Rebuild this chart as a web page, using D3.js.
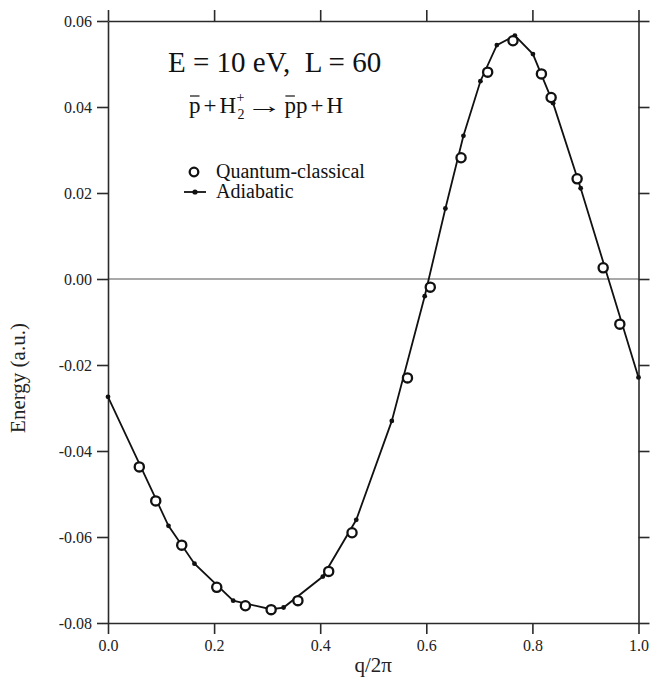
<!DOCTYPE html>
<html>
<head>
<meta charset="utf-8">
<script src="https://cdn.jsdelivr.net/npm/d3@7"></script>
<style>
  html, body { margin: 0; padding: 0; background: #fff; }
  svg { display: block; font-family: "Liberation Serif", "DejaVu Serif", serif; }
  text { white-space: pre; }
</style>
</head>
<body>
<svg id="chart" width="650" height="686"></svg>
<script>
// ---- data ----
const adiabaticQ = [0.000, 0.114, 0.163, 0.236, 0.307, 0.331, 0.405, 0.468, 0.535, 0.597, 0.636, 0.670, 0.702, 0.733, 0.767, 0.801, 0.839, 0.891, 1.000];
const adiabaticE = [-0.0274, -0.0574, -0.0662, -0.0748, -0.0768, -0.0764, -0.0692, -0.0560, -0.0330, -0.0040, 0.0164, 0.0333, 0.0460, 0.0544, 0.0566, 0.0523, 0.0409, 0.0211, -0.0229];
const quantumQ = [0.059, 0.090, 0.139, 0.205, 0.259, 0.3075, 0.358, 0.416, 0.460, 0.5645, 0.6075, 0.6655, 0.7157, 0.7634, 0.817, 0.8353, 0.8843, 0.9334, 0.9648];
const quantumE = [-0.0437, -0.0516, -0.0619, -0.0717, -0.0760, -0.0769, -0.0748, -0.0680, -0.0590, -0.0230, -0.0019, 0.0282, 0.0481, 0.0554, 0.0477, 0.0422, 0.0233, 0.0026, -0.0105];
const xTicks = [0, 0.2, 0.4, 0.6, 0.8, 1.0];
const xTickLabels = ["0.0", "0.2", "0.4", "0.6", "0.8", "1.0"];
const yTicks = [-0.08, -0.06, -0.04, -0.02, 0.00, 0.02, 0.04, 0.06];
const yTickLabels = ["-0.08", "-0.06", "-0.04", "-0.02", "0.00", "0.02", "0.04", "0.06"];
const titleText = "E = 10 eV,  L = 60";
const legendLabels = ["Quantum-classical", "Adiabatic"];
const xLabel = "q/2\u03C0";
const yLabel = "Energy (a.u.)";

// ---- layout ----
const L = 108, R = 638.5, T = 21, B = 623;
const svg = d3.select("#chart");
const x = d3.scaleLinear().domain([0, 1]).range([L, R]);
const y = d3.scaleLinear().domain([-0.08, 0.06]).range([B, T]);
const axisColor = "#2a2a2a";

function styleAxis(g) {
  g.selectAll("path.domain").attr("stroke", axisColor).attr("stroke-width", 1.6);
  g.selectAll(".tick line").attr("stroke", axisColor).attr("stroke-width", 1.6);
  g.selectAll(".tick text").attr("fill", "#222").attr("font-family", "Liberation Serif, serif").attr("font-size", 16);
}

// zero line
svg.append("line").attr("x1", L).attr("x2", R).attr("y1", y(0)).attr("y2", y(0))
  .attr("stroke", "#555").attr("stroke-width", 1.1);

const gx = svg.append("g").attr("transform", `translate(0,${B})`)
  .call(d3.axisBottom(x).tickValues(xTicks).tickFormat((d, i) => xTickLabels[i]).tickSize(11).tickSizeOuter(0).tickPadding(6));
styleAxis(gx);
const gxt = svg.append("g").attr("transform", `translate(0,${T})`)
  .call(d3.axisTop(x).tickValues(xTicks).tickFormat("").tickSize(11).tickSizeOuter(0));
styleAxis(gxt);
const gy = svg.append("g").attr("transform", `translate(${L},0)`)
  .call(d3.axisLeft(y).tickValues(yTicks).tickFormat((d, i) => yTickLabels[i]).tickSize(11).tickSizeOuter(0).tickPadding(5));
styleAxis(gy);
const gyr = svg.append("g").attr("transform", `translate(${R},0)`)
  .call(d3.axisRight(y).tickValues(yTicks).tickFormat("").tickSize(11).tickSizeOuter(0));
styleAxis(gyr);

// axis labels
svg.append("text").attr("x", (L + R) / 2).attr("y", 672).attr("text-anchor", "middle")
  .attr("font-size", 21).attr("fill", "#222").text(xLabel);
svg.append("text").attr("transform", "translate(25,378) rotate(-90)").attr("text-anchor", "middle")
  .attr("font-size", 21).attr("fill", "#222").text(yLabel);

// data
const adiabatic = adiabaticQ.map((q, i) => ({ q, e: adiabaticE[i] }));
const quantum = quantumQ.map((q, i) => ({ q, e: quantumE[i] }));
svg.append("path").datum(adiabatic)
  .attr("d", d3.line().x(d => x(d.q)).y(d => y(d.e)))
  .attr("fill", "none").attr("stroke", "#111").attr("stroke-width", 1.8);
svg.append("g").selectAll("circle").data(adiabatic).join("circle")
  .attr("cx", d => x(d.q)).attr("cy", d => y(d.e)).attr("r", 2.4).attr("fill", "#111");
svg.append("g").selectAll("circle").data(quantum).join("circle")
  .attr("cx", d => x(d.q)).attr("cy", d => y(d.e)).attr("r", 4.6)
  .attr("fill", "#fff").attr("stroke", "#111").attr("stroke-width", 2.3);

// title
svg.append("text").attr("x", 168).attr("y", 72).attr("font-size", 29).attr("fill", "#111").text(titleText);

// reaction equation, built from measured pieces
const eqG = svg.append("g");
let cx = 189;
const base = 113, fs = 23;
function piece(t, opts = {}) {
  const f = opts.fs || fs;
  const sx = opts.sx || 1;
  const x0 = cx + (opts.pre || 0);
  const el = eqG.append("text").attr("font-size", f).attr("fill", "#111").text(t);
  if (sx !== 1) {
    el.attr("transform", `translate(${x0},${base}) scale(${sx},1)`);
  } else {
    el.attr("x", x0).attr("y", base);
  }
  const w = el.node().getComputedTextLength() * sx;
  if (opts.bar) {
    eqG.append("line").attr("x1", x0 + 1).attr("x2", x0 + w - 1)
      .attr("y1", base - 17).attr("y2", base - 17).attr("stroke", "#111").attr("stroke-width", 1.2);
  }
  cx = x0 + w + (opts.post || 0);
  return el;
}
piece("p", { bar: true, post: 3 });
piece("+", { post: 3 });
piece("H", { post: 0.5 });
// stacked superscript / subscript
const s1 = eqG.append("text").attr("x", cx).attr("y", base - 11).attr("font-size", 14).attr("fill", "#111").text("+");
const s2 = eqG.append("text").attr("x", cx + 1).attr("y", base + 6).attr("font-size", 14).attr("fill", "#111").text("2");
cx += Math.max(s1.node().getComputedTextLength(), s2.node().getComputedTextLength() + 1) + 2;
piece("\u2192", { pre: -1, post: 2, sx: 1.6 });
piece("p", { bar: true });
piece("p", { post: 3 });
piece("+", { post: 3 });
piece("H");

// legend
const lg = svg.append("g");
lg.append("circle").attr("cx", 194).attr("cy", 172).attr("r", 4.3)
  .attr("fill", "#fff").attr("stroke", "#111").attr("stroke-width", 2.3);
lg.append("text").attr("x", 216).attr("y", 178).attr("font-size", 20).attr("fill", "#111").text(legendLabels[0]);
lg.append("line").attr("x1", 184).attr("x2", 206).attr("y1", 192).attr("y2", 192)
  .attr("stroke", "#111").attr("stroke-width", 1.8);
lg.append("circle").attr("cx", 195).attr("cy", 192).attr("r", 2.6).attr("fill", "#111");
lg.append("text").attr("x", 216).attr("y", 198).attr("font-size", 20).attr("fill", "#111").text(legendLabels[1]);
</script>
</body>
</html>
